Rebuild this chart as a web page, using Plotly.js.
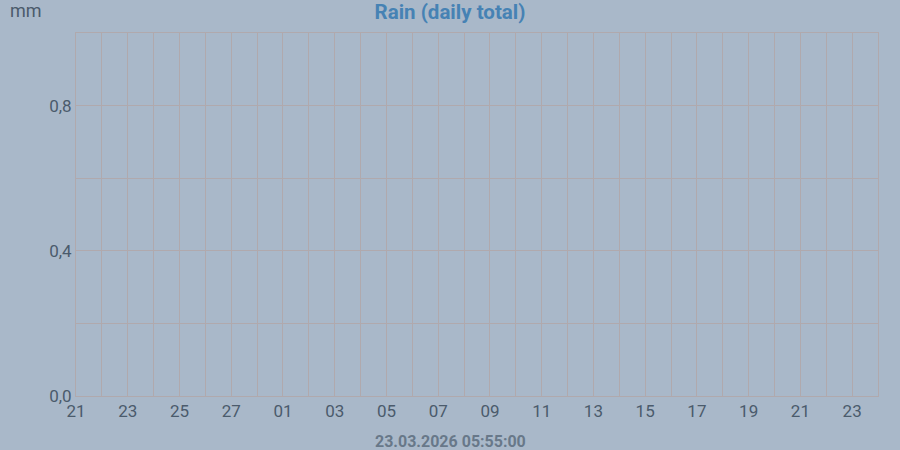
<!DOCTYPE html>
<html><head><meta charset="utf-8">
<script src="https://cdn.plot.ly/plotly-3.0.1.min.js"></script>
<style>html,body{margin:0;padding:0;background:#a9b8c9;}</style>
</head><body>
<div id="chart" style="width:900px;height:450px;"></div>
<script>
const dates = ["2026-02-21","2026-02-22","2026-02-23","2026-02-24","2026-02-25","2026-02-26","2026-02-27","2026-02-28",
"2026-03-01","2026-03-02","2026-03-03","2026-03-04","2026-03-05","2026-03-06","2026-03-07","2026-03-08","2026-03-09",
"2026-03-10","2026-03-11","2026-03-12","2026-03-13","2026-03-14","2026-03-15","2026-03-16","2026-03-17","2026-03-18",
"2026-03-19","2026-03-20","2026-03-21","2026-03-22","2026-03-23"];
const rain = [0,0,0,0,0,0,0,0,0,0,0,0,0,0,0,0,0,0,0,0,0,0,0,0,0,0,0,0,0,0,0];
const yTicks = [0, 0.4, 0.8];
const yTickText = ["0,0", "0,4", "0,8"];
const titleText = "Rain (daily total)";
const unitText = "mm";
const stampText = "23.03.2026 05:55:00";

const grid = "#b0a9ad";
const tickColor = "#4b5b6c";
const DAY = 86400000;

Plotly.newPlot("chart", [{
  type: "bar", x: dates, y: rain, marker: {color: "#4682b4"}, hoverinfo: "x+y"
}], {
  width: 900, height: 450,
  paper_bgcolor: "#a9b8c9", plot_bgcolor: "#a9b8c9",
  margin: {l: 76, r: 22, t: 33, b: 54},
  separators: ",.",
  showlegend: false,
  font: {family: "Roboto", size: 17, color: tickColor},
  title: {text: "<b>" + titleText + "</b>", font: {family: "Roboto", size: 20.5, color: "#4682b4"},
          x: 0.5, xanchor: "center", xref: "container", y: 1 - 12/450, yanchor: "middle", yref: "container"},
  xaxis: {
    type: "date", range: ["2026-02-21", "2026-03-24"],
    tick0: "2026-02-21", dtick: 2 * DAY, tickformat: "%d",
    showgrid: true, gridcolor: grid, gridwidth: 1,
    minor: {dtick: DAY, tick0: "2026-02-21", showgrid: true, gridcolor: grid, gridwidth: 1},
    showline: true, linecolor: grid, linewidth: 1, mirror: true, zeroline: false,
    ticks: "", ticklen: 0, tickfont: {family: "Roboto", size: 17, color: tickColor}
  },
  yaxis: {
    range: [0, 1], tickvals: yTicks, ticktext: yTickText,
    showgrid: true, gridcolor: grid, gridwidth: 1,
    minor: {dtick: 0.2, tick0: 0, showgrid: true, gridcolor: grid, gridwidth: 1},
    showline: true, linecolor: grid, linewidth: 1, mirror: true, zeroline: false,
    ticks: "", ticklen: 0, tickfont: {family: "Roboto", size: 17, color: tickColor}
  },
  annotations: [
    {text: unitText, xref: "paper", yref: "paper", x: -0.082, y: 1.0, xanchor: "left", yanchor: "bottom",
     xshift: -2, yshift: 10, showarrow: false, font: {family: "Roboto", size: 18, color: tickColor}},
    {text: "<b>" + stampText + "</b>", xref: "paper", yref: "paper", x: (450 - 76) / 802, y: 0, xanchor: "center", yanchor: "top",
     yshift: -34, showarrow: false, font: {family: "Roboto", size: 16, color: "#687889"}}
  ]
}, {displayModeBar: false, staticPlot: true});
</script>
</body></html>
